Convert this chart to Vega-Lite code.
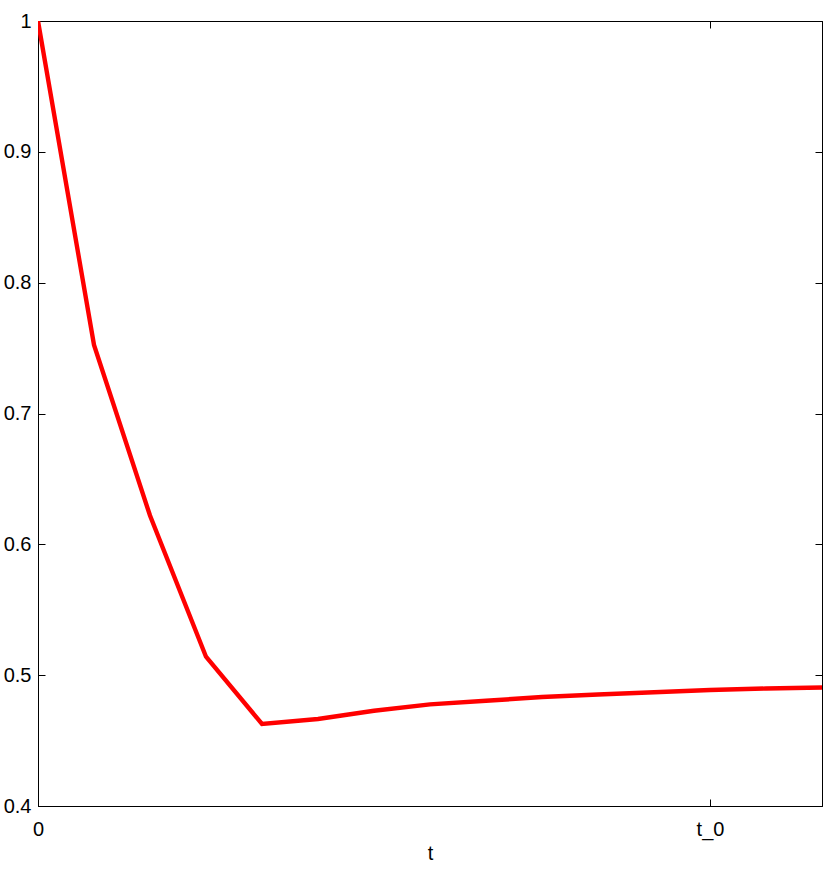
{
  "$schema": "https://vega.github.io/schema/vega-lite/v6.json",
  "width": 784,
  "height": 785,
  "autosize": {"type": "none"},
  "padding": {"left": 38, "top": 21, "right": 8, "bottom": 65},
  "background": "white",
  "config": {
    "view": {"stroke": "black", "strokeWidth": 1},
    "font": "Liberation Sans",
    "axis": {
      "grid": false,
      "domainColor": "black",
      "tickColor": "black",
      "labelColor": "black",
      "titleColor": "black",
      "labelFont": "Liberation Sans",
      "titleFont": "Liberation Sans",
      "labelFontSize": 20,
      "titleFontSize": 20,
      "titleFontWeight": "normal",
      "labelFlush": false,
      "labelOverlap": false,
      "tickSize": -7
    }
  },
  "data": {
    "values": [
      {"t": 0, "v": 1.0},
      {"t": 1, "v": 0.7524},
      {"t": 2, "v": 0.622},
      {"t": 3, "v": 0.5141},
      {"t": 4, "v": 0.4627},
      {"t": 5, "v": 0.4665},
      {"t": 6, "v": 0.4728},
      {"t": 7, "v": 0.4777},
      {"t": 8, "v": 0.4804},
      {"t": 9, "v": 0.4833},
      {"t": 10, "v": 0.4852},
      {"t": 11, "v": 0.4869},
      {"t": 12, "v": 0.4887},
      {"t": 13, "v": 0.4898},
      {"t": 14, "v": 0.4906}
    ]
  },
  "resolve": {"axis": {"x": "independent", "y": "independent"}},
  "layer": [
    {
      "mark": {"type": "line", "color": "#ff0000", "strokeWidth": 4.4, "clip": true},
      "encoding": {
        "x": {
          "field": "t", "type": "quantitative",
          "scale": {"domain": [0, 14], "nice": false, "zero": false},
          "axis": {
            "orient": "bottom", "values": [0, 12], "title": "t",
            "labelExpr": "datum.value == 12 ? 't_0' : '0'",
            "labelPadding": 20, "titlePadding": 4
          }
        },
        "y": {
          "field": "v", "type": "quantitative",
          "scale": {"domain": [0.4, 1], "nice": false, "zero": false},
          "axis": {
            "orient": "left", "values": [0.4, 0.5, 0.6, 0.7, 0.8, 0.9, 1],
            "labelExpr": "datum.value == 1 ? '1' : format(datum.value, '.1f')",
            "title": null, "labelPadding": 14
          }
        }
      }
    },
    {
      "mark": {"type": "line", "opacity": 0},
      "encoding": {
        "x": {
          "field": "t", "type": "quantitative",
          "axis": {"orient": "top", "values": [0, 12], "labels": false, "title": null}
        },
        "y": {
          "field": "v", "type": "quantitative",
          "axis": {"orient": "right", "values": [0.4, 0.5, 0.6, 0.7, 0.8, 0.9, 1], "labels": false, "title": null}
        }
      }
    }
  ]
}
